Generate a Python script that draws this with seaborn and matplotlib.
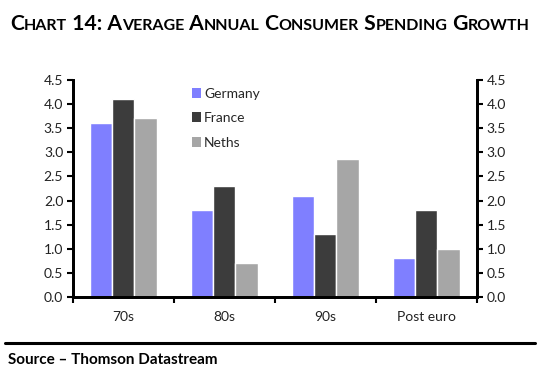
import numpy as np
import pandas as pd
import seaborn as sns
from matplotlib import pyplot as plt
from matplotlib.patches import Patch
from matplotlib.lines import Line2D

periods = ['70s', '80s', '90s', 'Post euro']
countries = ['Germany', 'France', 'Neths']
germany = [3.6, 1.8, 2.1, 0.8]
france = [4.1, 2.3, 1.3, 1.8]
neths = [3.7, 0.7, 2.85, 1.0]
yticks = [0.0, 0.5, 1.0, 1.5, 2.0, 2.5, 3.0, 3.5, 4.0, 4.5]

colors = ['#7f7fff', '#3c3c3c', '#a6a6a6']

df = pd.DataFrame({
    'period': periods * 3,
    'country': [c for c in countries for _ in periods],
    'value': germany + france + neths,
})

sns.set_style('white')
plt.rcParams['font.family'] = ['Lato', 'DejaVu Sans']

fig = plt.figure(figsize=(5.4, 3.75), dpi=100)
ax = fig.add_axes([0.135, 0.208, 0.748, 0.579])

sns.barplot(data=df, x='period', y='value', hue='country', palette=colors,
            width=0.66, gap=0, saturation=1, ax=ax, legend=False, errorbar=None)

ax.set_xlim(-0.5, 3.5)
ax.set_ylim(0, 4.5)
ax.set_xlabel('')
ax.set_ylabel('')

# left axis
ax.set_yticks(yticks)
ax.set_yticklabels([f'{v:.1f}' for v in yticks])
ax.tick_params(axis='y', direction='out', length=4, width=1.5, color='black',
               labelsize=10, labelcolor='#222222', left=True, pad=3)
ax.tick_params(axis='x', length=0, labelsize=10, labelcolor='#222222', pad=10)
ax.set_xticks(range(len(periods)))
ax.set_xticks([-0.5, 0.5, 1.5, 2.5, 3.5], minor=True)
ax.tick_params(axis='x', which='minor', direction='out', length=4, width=1.5,
               color='black', bottom=True)

# right axis, same scale
ax2 = ax.twinx()
ax2.set_ylim(0, 4.5)
ax2.set_yticks(yticks)
ax2.set_yticklabels([f'{v:.1f}' for v in yticks])
ax2.tick_params(axis='y', direction='out', length=4, width=1.5, color='black',
                labelsize=10, labelcolor='#222222', right=True, pad=3)

for a in (ax, ax2):
    for side in ('left', 'right', 'bottom'):
        a.spines[side].set_linewidth(2)
        a.spines[side].set_color('black')
    a.spines['top'].set_visible(False)

handles = [Patch(facecolor=c, edgecolor='none') for c in colors]
ax.legend(handles, countries, loc='upper left', bbox_to_anchor=(0.28, 0.99),
          frameon=False, fontsize=10, handlelength=0.7, handleheight=0.7,
          handletextpad=0.2, labelspacing=0.9, borderaxespad=0)

# title in small caps
title = 'Chart 14: Average Annual Consumer Spending Growth'
big, small = 15.2, 11.5
pieces = []
for ch in title:
    size = small if ch.islower() else big
    if pieces and pieces[-1][1] == size:
        pieces[-1][0] += ch.upper()
    else:
        pieces.append([ch.upper(), size])

renderer = fig.canvas.get_renderer()
x = 10 / 540
for txt, size in pieces:
    t = fig.text(x, 1 - 30 / 375, txt, fontsize=size, fontweight='bold',
                 color='black', ha='left', va='baseline')
    bb = t.get_window_extent(renderer)
    x += bb.width / fig.bbox.width

fig.add_artist(Line2D([5 / 540, 535 / 540], [1 - 343 / 375, 1 - 343 / 375],
                      color='black', linewidth=2.2, transform=fig.transFigure))
fig.text(8 / 540, 1 - 364 / 375, 'Source \u2013 Thomson Datastream',
         fontsize=11, fontweight='bold', color='black', ha='left', va='baseline')

fig.savefig('out.png', dpi=100)
